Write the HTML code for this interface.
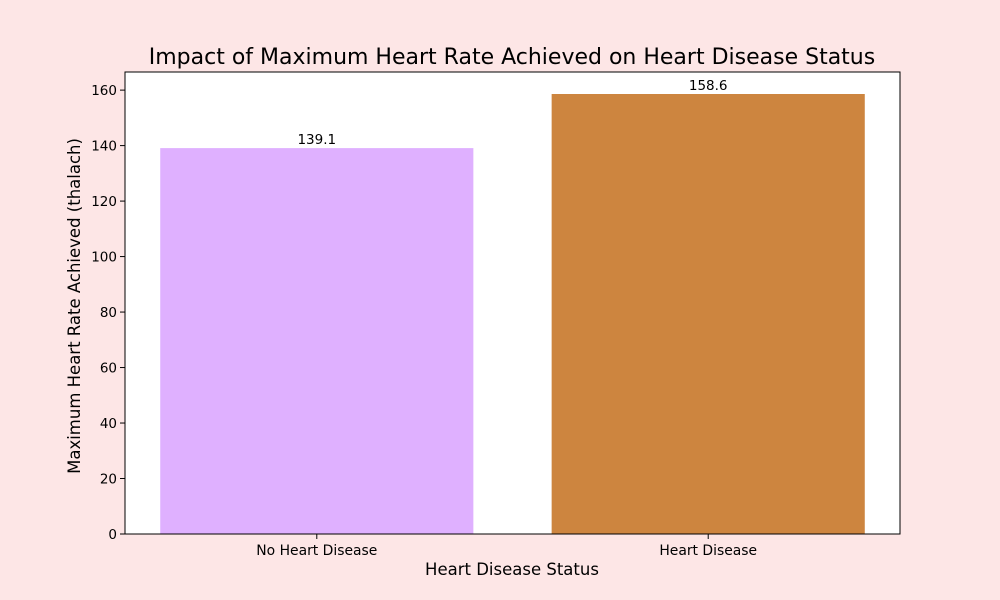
<!DOCTYPE html>
<html><head><meta charset="utf-8"><style>
html,body{margin:0;padding:0;background:#fde6e6;}
svg{display:block;font-family:"DejaVu Sans","Liberation Sans",sans-serif;}
</style></head><body>
<svg id="chart" width="1000" height="600"></svg>
<script>
const categories = ["No Heart Disease", "Heart Disease"];
const values = [139.1, 158.6];
const valueLabels = ["139.1", "158.6"];
const yTicks = [0, 20, 40, 60, 80, 100, 120, 140, 160];
const colors = ["#dfb0ff", "#cd853f"];

const NS = "http://www.w3.org/2000/svg";
const svg = document.getElementById("chart");
const L = 125, R = 900, T = 72, B = 534;
const yMax = Math.max(...values) * 1.05;
const xMin = -0.49, xMax = 1.49;
const xs = v => L + (v - xMin) / (xMax - xMin) * (R - L);
const ys = v => B - v / yMax * (B - T);
function mk(tag, attrs, text) {
  const e = document.createElementNS(NS, tag);
  for (const k in attrs) e.setAttribute(k, attrs[k]);
  if (text !== undefined) e.textContent = text;
  svg.appendChild(e);
  return e;
}
let e = mk("rect", {x: L, y: T, width: R - L, height: B - T, fill: "#fff"});



categories.forEach((c, i) => {
  const w = 0.8 * (R - L) / (xMax - xMin);
  const b = mk("rect", {x: xs(i) - w / 2, y: ys(values[i]), width: w, height: B - ys(values[i]), fill: colors[i]});
  
  
  const t = mk("text", {x: xs(i), y: ys(values[i]) - 4, "text-anchor": "middle", "font-size": 13.5}, valueLabels[i]);
  
  
  mk("line", {x1: xs(i), x2: xs(i), y1: B, y2: B + 5, stroke: "#000"});
  const xl = mk("text", {x: xs(i), y: B + 21, "text-anchor": "middle", "font-size": 13.9}, c);
  
  
});
yTicks.forEach(v => {
  mk("line", {x1: L - 5, x2: L, y1: ys(v), y2: ys(v), stroke: "#000"});
  const t = mk("text", {x: L - 8, y: ys(v) + 5, "text-anchor": "end", "font-size": 13.5}, v);
  
  
});
e = mk("rect", {x: L, y: T, width: R - L, height: B - T, fill: "none", stroke: "#000", "stroke-width": 1});


e = mk("text", {x: 512, y: 64, "text-anchor": "middle", "font-size": 22}, "Impact of Maximum Heart Rate Achieved on Heart Disease Status");


e = mk("text", {x: 512, y: 575, "text-anchor": "middle", "font-size": 16.5}, "Heart Disease Status");


e = mk("text", {x: 0, y: 0, "text-anchor": "middle", "font-size": 16.5, transform: "translate(80,306) rotate(-90)"}, "Maximum Heart Rate Achieved (thalach)");


</script>
</body></html>
